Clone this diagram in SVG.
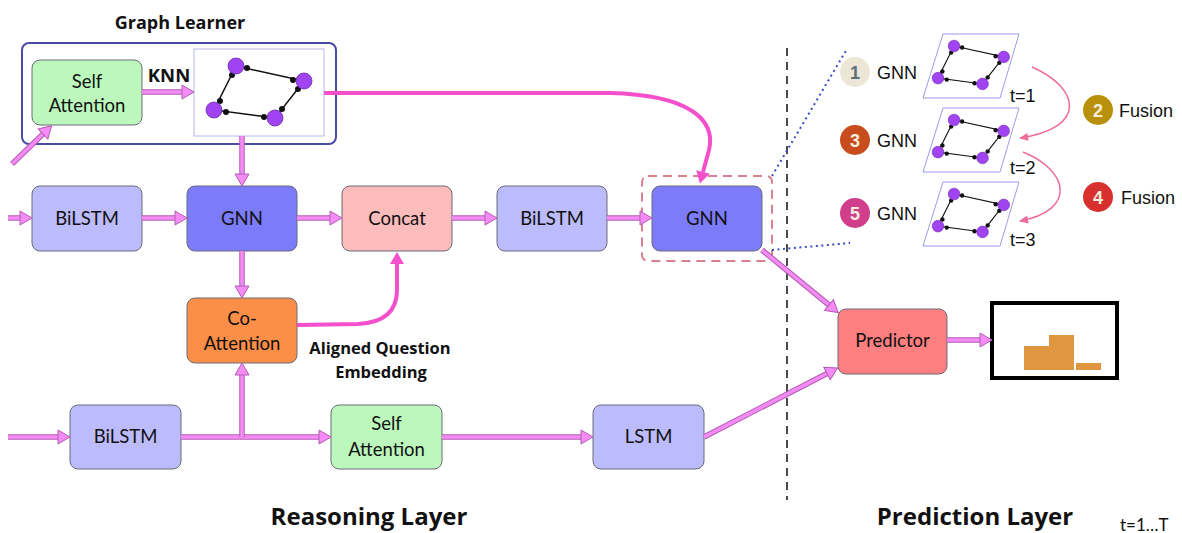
<svg xmlns="http://www.w3.org/2000/svg" xmlns:xlink="http://www.w3.org/1999/xlink" width="1182" height="533" viewBox="0 0 1182 533">
<style>
.box{stroke:#6a6a7a;stroke-width:1}
.lbl{font-family:Lato,"Liberation Sans",sans-serif;font-size:18.5px;fill:#111;text-anchor:middle}
.bold{font-family:"Open Sans","Liberation Sans",sans-serif;font-weight:bold;fill:#111}
.sm{font-family:"Liberation Sans",Arial,sans-serif;font-size:18px;fill:#111}
.num{font-family:"Liberation Sans",Arial,sans-serif;font-size:18px;font-weight:bold;fill:#f6eedc;text-anchor:middle}
.ao{fill:none;stroke:#b45cb4;stroke-width:5.5}
.ai{fill:none;stroke:#f58cf5;stroke-width:3.5;marker-end:url(#ph)}
.mg{fill:none;stroke:#f450cc;stroke-width:4;marker-end:url(#mh)}
.fu{fill:none;stroke:#ec6c9c;stroke-width:1.5;marker-end:url(#fh)}
.dot{fill:none;stroke:#3a4cc4;stroke-width:2;stroke-dasharray:2,3.5}
</style>
<defs>
<marker id="ph" markerUnits="userSpaceOnUse" markerWidth="16" markerHeight="18" refX="0" refY="8" orient="auto" overflow="visible">
<path d="M0,1 L12,8 L0,15 z" fill="#f58cf5" stroke="#b45cb4" stroke-width="1"/>
</marker>
<marker id="mh" markerUnits="userSpaceOnUse" markerWidth="16" markerHeight="18" refX="0" refY="8" orient="auto" overflow="visible">
<path d="M0,1 L12,8 L0,15 z" fill="#f450cc"/>
</marker>
<marker id="fh" markerUnits="userSpaceOnUse" markerWidth="10" markerHeight="10" refX="8" refY="4" orient="auto" overflow="visible">
<path d="M0,0 L9,4 L0,8 z" fill="#ec6c9c"/>
</marker>
<g id="graph">
<path d="M22,0 L90,15 L61,52 L0,44 Z" fill="none" stroke="#111" stroke-width="1.5"/>
<g fill="#111">
<circle cx="33" cy="2" r="3"/><circle cx="79" cy="14" r="3"/><circle cx="84" cy="23" r="3"/><circle cx="68" cy="43" r="3"/>
<circle cx="50" cy="51" r="3"/><circle cx="12" cy="46" r="3"/><circle cx="6" cy="35" r="3"/><circle cx="18" cy="9" r="3"/>
</g>
<g fill="#a044f2" stroke="#6a2aa8" stroke-width="0.8">
<circle cx="22" cy="0" r="8"/><circle cx="90" cy="15" r="8"/><circle cx="0" cy="44" r="8"/><circle cx="61" cy="52" r="8"/>
</g>
</g>
</defs>
<rect width="1182" height="533" fill="#fff"/>

<!-- Graph Learner -->
<g id="graph-learner">
<text class="bold" x="180" y="29" font-size="18" text-anchor="middle">Graph Learner</text>
<rect x="22" y="43" width="314" height="101" rx="7" fill="none" stroke="#4b4ba6" stroke-width="2"/>
</g>
<g id="self-attention-top">
<rect class="box" x="32" y="60" width="110" height="65" rx="8" fill="#bcf8bc"/>
<text class="lbl" x="87" y="88">Self</text>
<text class="lbl" x="87" y="112">Attention</text>
</g>
<g id="knn-label"><text class="bold" x="169" y="82" font-size="18.5" text-anchor="middle">KNN</text></g>
<g id="graph-image">
<rect x="194" y="49" width="130" height="87" fill="#fff" stroke="#b8b8e6" stroke-width="1"/>
<use xlink:href="#graph" transform="translate(214,66)"/>
</g>

<!-- Row 2 -->
<g id="bilstm-1"><rect class="box" x="32" y="186" width="110" height="65" rx="8" fill="#bcbcfd"/><text class="lbl" x="87" y="225">BiLSTM</text></g>
<g id="gnn-1"><rect class="box" x="187" y="186" width="110" height="65" rx="8" fill="#7c7cfa"/><text class="lbl" x="242" y="225">GNN</text></g>
<g id="concat"><rect class="box" x="342" y="186" width="110" height="65" rx="8" fill="#fcbcbc"/><text class="lbl" x="397" y="225">Concat</text></g>
<g id="bilstm-2"><rect class="box" x="497" y="186" width="110" height="65" rx="8" fill="#bcbcfd"/><text class="lbl" x="552" y="225">BiLSTM</text></g>
<g id="gnn-2"><rect class="box" x="652" y="186" width="110" height="65" rx="8" fill="#7c7cfa"/><text class="lbl" x="707" y="225">GNN</text>
<rect x="642" y="176" width="130" height="85" rx="6" fill="none" stroke="#d8808e" stroke-width="2" stroke-dasharray="9,6"/></g>

<g id="co-attention"><rect class="box" x="187" y="298" width="110" height="65" rx="8" fill="#fc8f48"/><text class="lbl" x="242" y="325">Co-</text><text class="lbl" x="242" y="350">Attention</text></g>
<g id="aligned-label">
<text class="bold" x="380" y="354" font-size="16.5" text-anchor="middle">Aligned Question</text>
<text class="bold" x="381" y="378" font-size="16.5" text-anchor="middle">Embedding</text>
</g>

<!-- Bottom row -->
<g id="bilstm-3"><rect class="box" x="70" y="405" width="111" height="64" rx="8" fill="#bcbcfd"/><text class="lbl" x="125.5" y="443">BiLSTM</text></g>
<g id="self-attention-bottom"><rect class="box" x="331" y="405" width="111" height="64" rx="8" fill="#bcf8bc"/><text class="lbl" x="386.5" y="430">Self</text><text class="lbl" x="386.5" y="456">Attention</text></g>
<g id="lstm"><rect class="box" x="593" y="405" width="111" height="64" rx="8" fill="#bcbcfd"/><text class="lbl" x="648.5" y="443">LSTM</text></g>

<!-- Prediction -->
<g id="predictor"><rect class="box" x="838" y="309" width="109" height="65" rx="8" fill="#fd7f7f"/><text class="lbl" x="892.5" y="347">Predictor</text></g>
<g id="result">
<rect x="992" y="303" width="125" height="75" fill="#fff" stroke="#000" stroke-width="4"/>
<rect x="1024" y="346" width="25" height="24" fill="#e0963e"/>
<rect x="1049" y="335" width="25" height="35" fill="#e0963e"/>
<rect x="1076" y="363" width="25" height="7" fill="#e0963e"/>
</g>

<g id="divider"><line x1="787" y1="48" x2="787" y2="500" stroke="#111" stroke-width="1.5" stroke-dasharray="8,6"/></g>

<!-- Temporal panel -->
<g id="step-1">
<circle cx="855" cy="72" r="15" fill="#ece6d6"/><text class="num" x="855" y="78.5" style="fill:#5e6e7a">1</text>
<text class="sm" x="877" y="78.5">GNN</text>
<polygon points="923,98 943,34 1019,34 1000,98" fill="#fff" stroke="#9c9ce8" stroke-width="1"/>
<use xlink:href="#graph" transform="translate(938,46) scale(0.73)"/>
<text class="sm" x="1010" y="102">t=1</text>
</g>
<g id="step-3">
<circle cx="855" cy="140" r="15" fill="#c84c1c"/><text class="num" x="855" y="146.5">3</text>
<text class="sm" x="877" y="146.5">GNN</text>
<polygon points="923,172 943,108 1019,108 1000,172" fill="#fff" stroke="#9c9ce8" stroke-width="1"/>
<use xlink:href="#graph" transform="translate(938,120) scale(0.73)"/>
<text class="sm" x="1010" y="174">t=2</text>
</g>
<g id="step-5">
<circle cx="855" cy="213" r="15" fill="#d03e8c"/><text class="num" x="855" y="219.5">5</text>
<text class="sm" x="877" y="219.5">GNN</text>
<polygon points="923,246 943,182 1019,182 1000,246" fill="#fff" stroke="#9c9ce8" stroke-width="1"/>
<use xlink:href="#graph" transform="translate(938,194) scale(0.73)"/>
<text class="sm" x="1010" y="246">t=3</text>
</g>
<g id="step-2"><circle cx="1098" cy="110" r="15" fill="#b8900c"/><text class="num" x="1098" y="116.5">2</text><text class="sm" x="1119" y="117">Fusion</text></g>
<g id="step-4"><circle cx="1098" cy="197" r="15" fill="#d8302e"/><text class="num" x="1098" y="203.5">4</text><text class="sm" x="1121" y="204">Fusion</text></g>

<g id="connectors">
<g>
<path class="ao" d="M12,164 L43,134"/><path class="ai" d="M12,164 L43,134"/>
<path class="ao" d="M142,92 L182,92"/><path class="ai" d="M142,92 L182,92"/>
<path class="ao" d="M242,136 L242,174"/><path class="ai" d="M242,136 L242,174"/>
<path class="ao" d="M8,218 L20,218"/><path class="ai" d="M8,218 L20,218"/>
<path class="ao" d="M142,218 L175,218"/><path class="ai" d="M142,218 L175,218"/>
<path class="ao" d="M297,218 L330,218"/><path class="ai" d="M297,218 L330,218"/>
<path class="ao" d="M452,218 L485,218"/><path class="ai" d="M452,218 L485,218"/>
<path class="ao" d="M607,218 L640,218"/><path class="ai" d="M607,218 L640,218"/>
<path class="ao" d="M242,251 L242,286"/><path class="ai" d="M242,251 L242,286"/>
<path class="ao" d="M8,437 L58,437"/><path class="ai" d="M8,437 L58,437"/>
<path class="ao" d="M181,437 L319,437"/><path class="ai" d="M181,437 L319,437"/>
<path class="ao" d="M242,437 L242,375"/><path class="ai" d="M242,437 L242,375"/>
<path class="ao" d="M442,437 L581,437"/><path class="ai" d="M442,437 L581,437"/>
<path class="ao" d="M704,437 L827,373.5"/><path class="ai" d="M704,437 L827,373.5"/>
<path class="ao" d="M762,250 L829,305"/><path class="ai" d="M762,250 L829,305"/>
<path class="ao" d="M947,340 L980,340"/><path class="ai" d="M947,340 L980,340"/>
</g>
<path class="mg" d="M297,325 L358,324 Q397,322 397,290 L397,264"/>
<path class="mg" d="M324,93 L610,93 C690,95 716,120 709,150 L703,172"/>
<path class="fu" d="M1032,67 C1080,88 1088,128 1020,138"/>
<path class="fu" d="M1023,152 C1068,170 1078,210 1020,221"/>
<path class="dot" d="M772,176 L847,49"/>
<path class="dot" d="M772,250 L850,243"/>
</g>

<g id="layer-labels">
<text class="bold" x="369" y="525" font-size="24" text-anchor="middle">Reasoning Layer</text>
<text class="bold" x="975" y="525" font-size="24" text-anchor="middle">Prediction Layer</text>
<text x="1120" y="531" font-family="Lato,'Liberation Sans',sans-serif" font-size="17" fill="#111">t=1…T</text>
</g>
</svg>
